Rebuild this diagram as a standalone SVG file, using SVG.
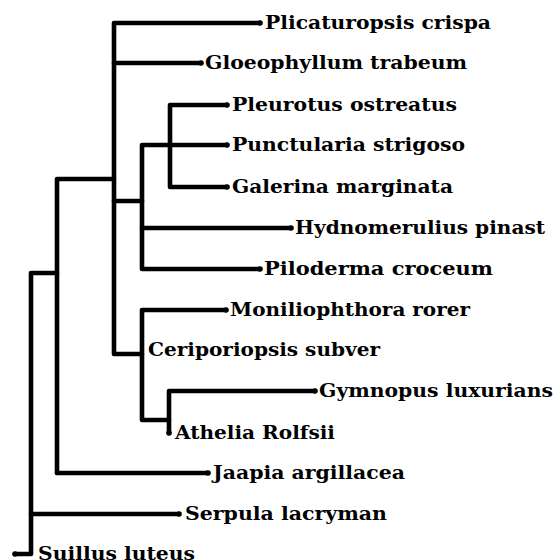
<svg xmlns="http://www.w3.org/2000/svg" width="554" height="560" viewBox="0 0 554 560">
<style>
.br{fill:none;stroke:#000;stroke-width:4.6;stroke-linecap:round;stroke-linejoin:round}
.tip{fill:#000}
text{font-family:"DejaVu Serif",serif;font-weight:bold;font-size:19px;fill:#000}
</style>
<rect width="554" height="560" fill="#fff"/>
<g id="connectors">
<path class="br" d="M15,554 H31 V273 H57"/>
<path class="br" d="M31,514 H179"/>
<path class="br" d="M57,473 V179 H114"/>
<path class="br" d="M57,473 H208"/>
<path class="br" d="M260,23 H114 V354 H142"/>
<path class="br" d="M114,63 H201"/>
<path class="br" d="M114,201 H142"/>
<path class="br" d="M170,145 H142 V269 H260"/>
<path class="br" d="M142,228 H291"/>
<path class="br" d="M227,105 H170 V187 H227"/>
<path class="br" d="M170,145 H227"/>
<path class="br" d="M226,310 H142 V420 H169"/>
<path class="br" d="M315,391 H169 V433"/>
</g>
<g id="n1"><circle class="tip" cx="260" cy="23" r="2.8"/><text x="265" y="29" textLength="226" lengthAdjust="spacingAndGlyphs">Plicaturopsis crispa</text></g>
<g id="n2"><circle class="tip" cx="201" cy="63" r="2.8"/><text x="205" y="69" textLength="262" lengthAdjust="spacingAndGlyphs">Gloeophyllum trabeum</text></g>
<g id="n3"><circle class="tip" cx="227" cy="105" r="2.8"/><text x="232" y="111" textLength="225" lengthAdjust="spacingAndGlyphs">Pleurotus ostreatus</text></g>
<g id="n4"><circle class="tip" cx="227" cy="145" r="2.8"/><text x="232" y="151" textLength="233" lengthAdjust="spacingAndGlyphs">Punctularia strigoso</text></g>
<g id="n5"><circle class="tip" cx="227" cy="187" r="2.8"/><text x="232" y="193" textLength="221" lengthAdjust="spacingAndGlyphs">Galerina marginata</text></g>
<g id="n6"><circle class="tip" cx="291" cy="228" r="2.8"/><text x="295" y="234" textLength="250" lengthAdjust="spacingAndGlyphs">Hydnomerulius pinast</text></g>
<g id="n7"><circle class="tip" cx="260" cy="269" r="2.8"/><text x="264" y="275" textLength="229" lengthAdjust="spacingAndGlyphs">Piloderma croceum</text></g>
<g id="n8"><circle class="tip" cx="226" cy="310" r="2.8"/><text x="230" y="316" textLength="240" lengthAdjust="spacingAndGlyphs">Moniliophthora rorer</text></g>
<g id="n9"><text x="148" y="356" textLength="232" lengthAdjust="spacingAndGlyphs">Ceriporiopsis subver</text></g>
<g id="n10"><circle class="tip" cx="315" cy="391" r="2.8"/><text x="319" y="397" textLength="234" lengthAdjust="spacingAndGlyphs">Gymnopus luxurians</text></g>
<g id="n11"><circle class="tip" cx="169" cy="433" r="2.8"/><text x="175" y="439" textLength="160" lengthAdjust="spacingAndGlyphs">Athelia Rolfsii</text></g>
<g id="n12"><circle class="tip" cx="208" cy="473" r="2.8"/><text x="213" y="479" textLength="192" lengthAdjust="spacingAndGlyphs">Jaapia argillacea</text></g>
<g id="n13"><circle class="tip" cx="179" cy="514" r="2.8"/><text x="185" y="520" textLength="202" lengthAdjust="spacingAndGlyphs">Serpula lacryman</text></g>
<g id="n14"><circle class="tip" cx="15" cy="554" r="2.8"/><text x="38" y="560" textLength="157" lengthAdjust="spacingAndGlyphs">Suillus luteus</text></g>
</svg>
